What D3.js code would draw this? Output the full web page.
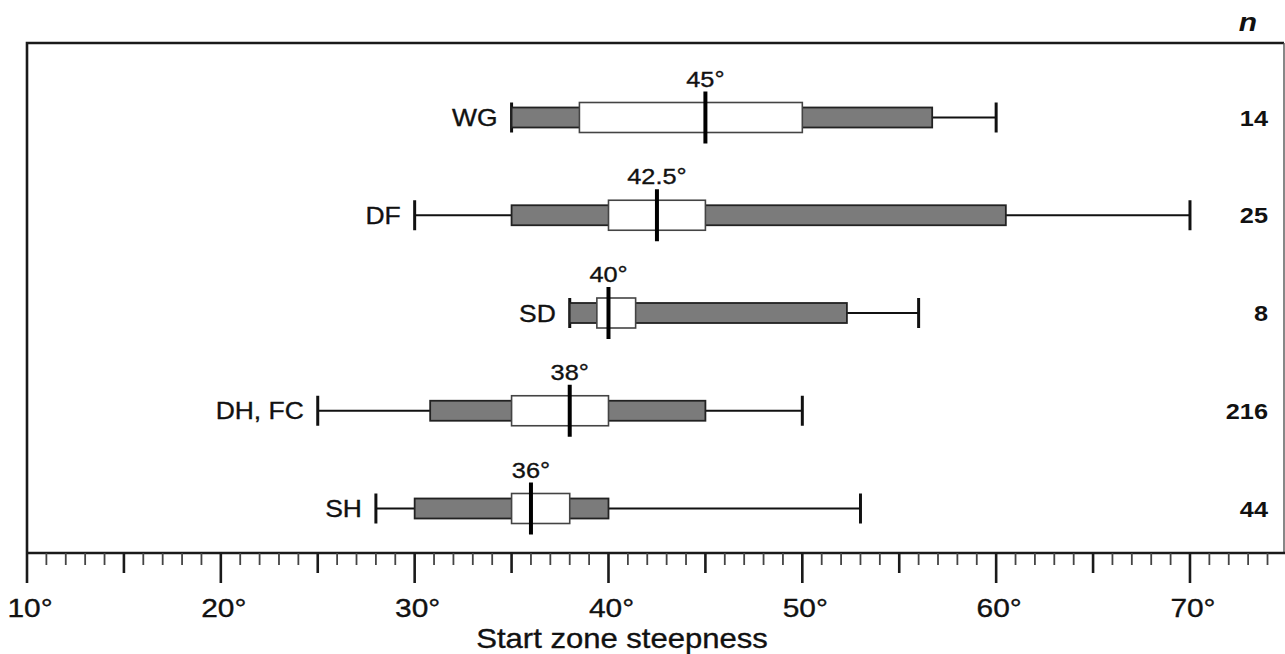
<!DOCTYPE html>
<html>
<head>
<meta charset="utf-8">
<script src="https://cdn.jsdelivr.net/npm/d3@7"></script>
<style>
  html, body { margin: 0; padding: 0; background: #ffffff; }
  svg { display: block; }
  text { font-family: "Liberation Sans", Arial, Helvetica, sans-serif; fill: #111; }
  text.reg { stroke: #111; stroke-width: 0.35px; }
</style>
</head>
<body>
<svg id="chart" width="1285" height="654"></svg>
<script>
// Start zone steepness by avalanche type
const categories = ["WG", "DF", "SD", "DH, FC", "SH"];
const minVals    = [35, 30, 38, 25, 28];
const p10Vals    = [35, 35, 38, 30.8, 30];
const q1Vals     = [38.5, 40, 39.4, 35, 35];
const medianVals = [45, 42.5, 40, 38, 36];
const q3Vals     = [50, 45, 41.4, 40, 38];
const p90Vals    = [56.7, 60.5, 52.3, 45, 40];
const maxVals    = [60, 70, 56, 50, 53];
const counts     = [14, 25, 8, 216, 44];
const tickLabels = [10, 20, 30, 40, 50, 60, 70];

const rows = categories.map((c, i) => ({
  cat: c, min: minVals[i], p10: p10Vals[i], q1: q1Vals[i], med: medianVals[i],
  q3: q3Vals[i], p90: p90Vals[i], max: maxVals[i], n: counts[i]
}));

const svg = d3.select("#chart");
const W = 1285;
const frame = { left: 27, top: 43, right: 1284, bottom: 553 };

// Type in this figure is set slightly wide
const SX = 1.15;

const x = d3.scaleLinear().domain([10, 75]).range([frame.left, frame.left + 65 * 19.383]);
const y = d3.scalePoint().domain(categories).range([117.5, 508.5]);

function label(g, px, py, str, opts) {
  return g.append("g").attr("transform", `translate(${px},${py})`)
    .append("text")
    .attr("class", opts.weight === "bold" ? "bold" : "reg")
    .attr("transform", `scale(${SX},1)`)
    .attr("text-anchor", opts.anchor || "middle")
    .attr("font-size", opts.size)
    .attr("font-weight", opts.weight || "normal")
    .attr("font-style", opts.style || "normal")
    .text(str);
}

// Frame: top, left and right edges
svg.append("path")
  .attr("d", `M${frame.left},${frame.bottom}V${frame.top}H${frame.right}`)
  .attr("fill", "none").attr("stroke", "#1a1a1a").attr("stroke-width", 2.6);
svg.append("line")
  .attr("x1", frame.right).attr("x2", frame.right)
  .attr("y1", frame.top).attr("y2", frame.bottom)
  .attr("stroke", "#555").attr("stroke-width", 1.4);

// Bottom axis with 1° minor ticks, 5° mid ticks and 10° major ticks
const axisG = svg.append("g");
axisG.append("line")
  .attr("x1", frame.left).attr("x2", W)
  .attr("y1", frame.bottom).attr("y2", frame.bottom)
  .attr("stroke", "#1a1a1a").attr("stroke-width", 2.6);

const allTicks = d3.range(10, 75, 1);
axisG.selectAll("line.tick").data(allTicks).join("line")
  .attr("class", "tick")
  .attr("x1", d => x(d)).attr("x2", d => x(d))
  .attr("y1", frame.bottom)
  .attr("y2", d => frame.bottom + (d % 10 === 0 ? 30 : d % 5 === 0 ? 20 : 12))
  .attr("stroke", d => d % 5 === 0 ? "#1a1a1a" : "#444")
  .attr("stroke-width", d => d % 5 === 0 ? 2.6 : 1.8);

tickLabels.forEach(v => label(axisG, x(v) + 3, 617, v + "°", { size: 26 }));
label(axisG, 622, 648, "Start zone steepness", { size: 27 });

// Boxes
const boxG = svg.append("g");
rows.forEach(r => {
  const cy = y(r.cat);
  const g = boxG.append("g");

  // whiskers
  if (r.p10 > r.min) {
    g.append("line").attr("x1", x(r.min)).attr("x2", x(r.p10))
      .attr("y1", cy).attr("y2", cy).attr("stroke", "#111").attr("stroke-width", 2);
  }
  if (r.max > r.p90) {
    g.append("line").attr("x1", x(r.p90)).attr("x2", x(r.max))
      .attr("y1", cy).attr("y2", cy).attr("stroke", "#111").attr("stroke-width", 2);
  }
  // end caps
  [r.min, r.max].forEach(v => {
    g.append("line").attr("x1", x(v)).attr("x2", x(v))
      .attr("y1", cy - 15).attr("y2", cy + 15)
      .attr("stroke", "#111").attr("stroke-width", 3);
  });

  // 10th–90th percentile band
  g.append("rect")
    .attr("x", x(r.p10)).attr("width", x(r.p90) - x(r.p10))
    .attr("y", cy - 10).attr("height", 20)
    .attr("fill", "#7b7b7b").attr("stroke", "#222").attr("stroke-width", 1.8);

  // interquartile box
  g.append("rect")
    .attr("x", x(r.q1)).attr("width", x(r.q3) - x(r.q1))
    .attr("y", cy - 15).attr("height", 30)
    .attr("fill", "#ffffff").attr("stroke", "#444").attr("stroke-width", 1.6);

  // median
  g.append("line").attr("x1", x(r.med)).attr("x2", x(r.med))
    .attr("y1", cy - 26).attr("y2", cy + 26)
    .attr("stroke", "#000").attr("stroke-width", 4);

  label(g, x(r.med), cy - 31, r.med + "°", { size: 22 });
  label(g, x(r.min) - 14, cy + 8.5, r.cat, { size: 23, anchor: "end" });
  label(g, 1268, cy + 8, r.n, { size: 22, weight: "bold", anchor: "end" });
});

label(svg, 1257, 31, "n", { size: 26, weight: "bold", style: "italic", anchor: "end" });
</script>
</body>
</html>
